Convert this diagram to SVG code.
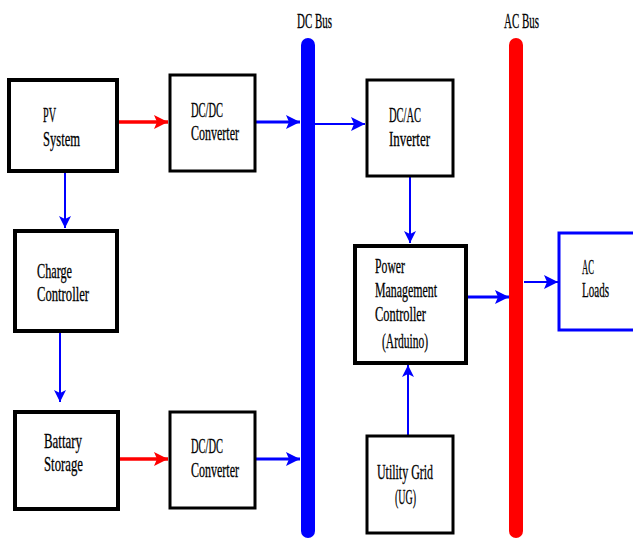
<svg xmlns="http://www.w3.org/2000/svg" width="633" height="540" viewBox="0 0 633 540">
<style>
.box{fill:#fff;stroke:#000;stroke-width:4}
.bbox{fill:#fff;stroke:#0000ff;stroke-width:3}
text{font-family:"Liberation Serif","DejaVu Serif",serif;font-size:21px;fill:#000;stroke:#000;stroke-width:0.3}
.bus-dc{stroke:#0000ff;stroke-width:14;stroke-linecap:round}
.bus-ac{stroke:#ff0000;stroke-width:14;stroke-linecap:round}
.cb{stroke:#0000ff;stroke-width:2;fill:none}
.cbt{stroke:#0000ff;stroke-width:3;fill:none}
.cr{stroke:#ff0000;stroke-width:3.5;fill:none}
</style>
<defs>
<marker id="ab" markerUnits="userSpaceOnUse" markerWidth="14" markerHeight="14" refX="12" refY="7" orient="auto"><path d="M0,1 L12,7 L0,13 L3,7 Z" fill="#0000ff"/></marker>
<marker id="abl" markerUnits="userSpaceOnUse" markerWidth="16" markerHeight="16" refX="14" refY="8" orient="auto"><path d="M0,1 L14,8 L0,15 L3,8 Z" fill="#0000ff"/></marker>
<marker id="ar" markerUnits="userSpaceOnUse" markerWidth="16" markerHeight="16" refX="14" refY="8" orient="auto"><path d="M0,1 L14,8 L0,15 L3,8 Z" fill="#ff0000"/></marker>
</defs>

<g id="buses">
<line class="bus-dc" x1="308" y1="45" x2="308" y2="531"/>
<line class="bus-ac" x1="516" y1="45" x2="516" y2="531"/>
<text x="297" y="28" textLength="35" lengthAdjust="spacingAndGlyphs">DC Bus</text>
<text x="504" y="28" textLength="35" lengthAdjust="spacingAndGlyphs">AC Bus</text>
</g>

<g id="connectors">
<line class="cr" x1="119" y1="122" x2="168" y2="122" marker-end="url(#ar)"/>
<line class="cbt" x1="256" y1="122" x2="300" y2="122" marker-end="url(#abl)"/>
<line class="cb" x1="315" y1="124" x2="365" y2="124" marker-end="url(#abl)"/>
<line class="cb" x1="410" y1="177" x2="410" y2="243" marker-end="url(#ab)"/>
<line class="cbt" x1="467" y1="297" x2="509" y2="297" marker-end="url(#abl)"/>
<line class="cb" x1="524" y1="282" x2="558" y2="282" marker-end="url(#abl)"/>
<line class="cb" x1="408" y1="435" x2="408" y2="365" marker-end="url(#ab)"/>
<line class="cb" x1="65" y1="173" x2="65" y2="228" marker-end="url(#ab)"/>
<line class="cb" x1="60" y1="333" x2="60" y2="402" marker-end="url(#ab)"/>
<line class="cr" x1="119" y1="459" x2="168" y2="459" marker-end="url(#ar)"/>
<line class="cbt" x1="256" y1="459" x2="300" y2="459" marker-end="url(#abl)"/>
</g>

<g id="pv">
<rect class="box" x="9" y="80" width="108" height="91"/>
<text x="43" y="122" textLength="13" lengthAdjust="spacingAndGlyphs">PV</text>
<text x="43" y="146" textLength="37" lengthAdjust="spacingAndGlyphs">System</text>
</g>

<g id="dcdc1">
<rect class="box" x="170" y="75" width="85" height="96" style="stroke-width:3"/>
<text x="191" y="117" textLength="32" lengthAdjust="spacingAndGlyphs">DC/DC</text>
<text x="191" y="140" textLength="48" lengthAdjust="spacingAndGlyphs">Converter</text>
</g>

<g id="charge">
<rect class="box" x="15" y="231" width="102" height="100"/>
<text x="37" y="278" textLength="35" lengthAdjust="spacingAndGlyphs">Charge</text>
<text x="37" y="301" textLength="52" lengthAdjust="spacingAndGlyphs">Controller</text>
</g>

<g id="battery">
<rect class="box" x="15" y="412" width="103" height="97"/>
<text x="44" y="448" textLength="38" lengthAdjust="spacingAndGlyphs">Battary</text>
<text x="44" y="471" textLength="39" lengthAdjust="spacingAndGlyphs">Storage</text>
</g>

<g id="dcdc2">
<rect class="box" x="170" y="412" width="85" height="96" style="stroke-width:3"/>
<text x="191" y="453" textLength="32" lengthAdjust="spacingAndGlyphs">DC/DC</text>
<text x="191" y="477" textLength="48" lengthAdjust="spacingAndGlyphs">Converter</text>
</g>

<g id="inverter">
<rect class="box" x="367" y="80" width="86" height="96" style="stroke-width:3"/>
<text x="389" y="122" textLength="32" lengthAdjust="spacingAndGlyphs">DC/AC</text>
<text x="389" y="146" textLength="41" lengthAdjust="spacingAndGlyphs">Inverter</text>
</g>

<g id="pmc">
<rect class="box" x="355" y="246" width="111" height="117"/>
<text x="375" y="273" textLength="30" lengthAdjust="spacingAndGlyphs">Power</text>
<text x="375" y="297" textLength="62" lengthAdjust="spacingAndGlyphs">Management</text>
<text x="375" y="321" textLength="51" lengthAdjust="spacingAndGlyphs">Controller</text>
<text x="382" y="348" textLength="46" lengthAdjust="spacingAndGlyphs">(Arduino)</text>
</g>

<g id="acloads">
<rect class="bbox" x="559" y="233" width="80" height="97"/>
<text x="582" y="274" textLength="12" lengthAdjust="spacingAndGlyphs">AC</text>
<text x="582" y="297" textLength="27" lengthAdjust="spacingAndGlyphs">Loads</text>
</g>

<g id="grid">
<rect class="box" x="367" y="436" width="86" height="97" style="stroke-width:3"/>
<text x="377" y="479" textLength="56" lengthAdjust="spacingAndGlyphs">Utility Grid</text>
<text x="395" y="504" textLength="21" lengthAdjust="spacingAndGlyphs">(UG)</text>
</g>
</svg>
